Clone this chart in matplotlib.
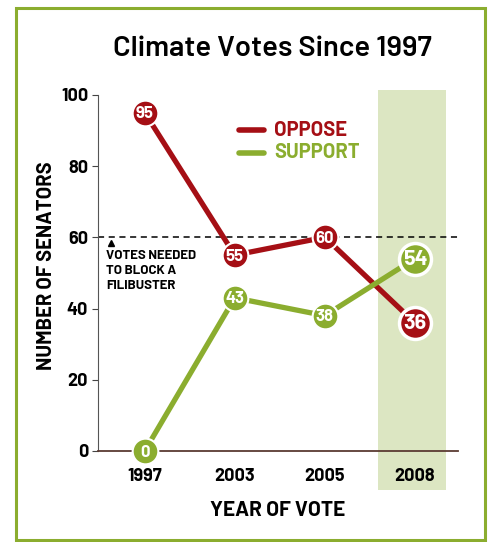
import matplotlib.pyplot as plt
from matplotlib.patches import Rectangle

years = ["1997", "2003", "2005", "2008"]
oppose = [95, 55, 60, 36]
support = [0, 43, 38, 54]
threshold = 60

red = "#a50f15"
green = "#8bad2f"
band = "#dce6c2"
plt.rcParams["font.family"] = ["Barlow", "DejaVu Sans"]
plt.rcParams["font.weight"] = "bold"
plt.rcParams["axes.labelweight"] = "bold"

fig = plt.figure(figsize=(4.92, 5.42), dpi=100)
ax = fig.add_axes([0.199, 0.168, 0.732, 0.657])
x = list(range(len(years)))
ax.set_xlim(-0.52, 3.48)
ax.set_ylim(0, 100)

# highlight band behind 2008
ax.add_patch(Rectangle((x[-1] - 0.41, -11), 0.76, 112.5, color=band,
                       zorder=0, clip_on=False, lw=0))

ax.axhline(threshold, color="black", ls=(0, (4, 3)), lw=1.1, zorder=1)
ax.plot([-0.37], [threshold - 1.6], marker="^", color="black", ms=4.5, zorder=2)
ax.annotate("VOTES NEEDED\nTO BLOCK A\nFILIBUSTER", (-0.52, threshold - 3.6),
            xytext=(6, 0), textcoords="offset points", va="top", ha="left",
            fontsize=9.5, linespacing=1.45)

for vals, col in [(oppose, red), (support, green)]:
    ax.plot(x, vals, color=col, lw=3.8, zorder=3, solid_capstyle="round")
    for i, v in enumerate(vals):
        big = i == len(vals) - 1
        ax.plot(x[i], v, "o", ms=23 if big else 18.5, mfc=col, mec="white",
                mew=2.5 if big else 1.5, zorder=4, clip_on=False)
        ax.text(x[i], v - 0.3, str(v), color="white", ha="center", va="center",
                fontsize=15.5 if big else 12, zorder=5)

# legend
for j, (lab, col) in enumerate([("OPPOSE", red), ("SUPPORT", green)]):
    yy = 90 - j * 6.2
    ax.plot([1.05, 1.33], [yy, yy], color=col, lw=4, solid_capstyle="round")
    ax.text(1.44, yy, lab, color=col, fontsize=14.5, va="center", ha="left")

ax.set_xticks(x)
ax.set_xticklabels(years, fontsize=13)
ax.set_yticks(range(0, 101, 20))
ax.tick_params(axis="y", labelsize=13, length=4, color="#444444", pad=3)
ax.tick_params(axis="x", length=0, pad=12)
for s in ["top", "right"]:
    ax.spines[s].set_visible(False)
ax.spines["left"].set_color("#555555")
ax.spines["bottom"].set_color("#5b3b33")
ax.spines["bottom"].set_linewidth(1.3)
ax.set_xlabel("YEAR OF VOTE", fontsize=15, labelpad=12)
ax.set_ylabel("NUMBER OF SENATORS", fontsize=14.5)
ax.yaxis.set_label_coords(-0.115, 0.52)

fig.text(0.553, 0.911, "Climate Votes Since 1997", ha="center", va="center",
         fontsize=21, fontweight="semibold")
fig.patches.append(Rectangle((0.033, 0.003), 0.953, 0.982, fill=False,
                             ec=green, lw=2.2, transform=fig.transFigure))

fig.savefig("out.png", dpi=100)
